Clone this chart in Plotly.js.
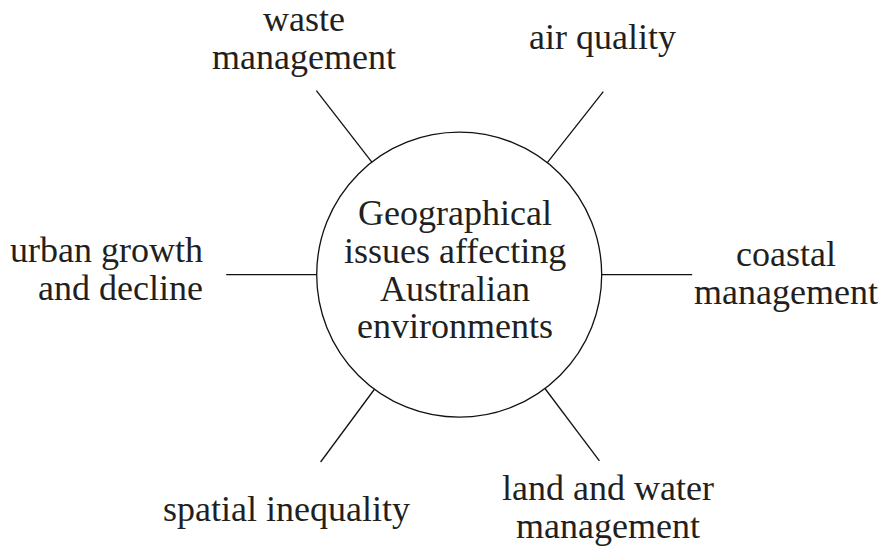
<!DOCTYPE html>
<html>
<head>
<meta charset="utf-8">
<script src="https://cdn.plot.ly/plotly-3.0.1.min.js"></script>
<style>html,body{margin:0;padding:0;background:#fff;}#chart{width:885px;height:549px;}</style>
</head>
<body>
<div id="chart"></div>
<script>
// ---- diagram data ----
var centreTitle = ["Geographical", "issues affecting", "Australian", "environments"];
var topics = ["waste management", "air quality", "coastal management", "land and water management", "spatial inequality", "urban growth and decline"];
var topicLines = [["waste", "management"], ["air quality"], ["coastal", "management"], ["land and water", "management"], ["spatial inequality"], ["urban growth", "and decline"]];
var spokeAngles = [127.8, 51.8, 0, -53, -126.5, 180]; // degrees, counter-clockwise from east

// ---- layout config (positions / styles) ----
var W = 885, H = 549;
var cx = 459.2, cy = 274.7, R = 142.5, spokeLen = 233;
var fontFam = "Liberation Serif";
var fs = 36;
var txtColor = "#231f20";
var lineGap = 37.8;
// label anchor: x, first baseline, xanchor
var labelPos = [
  {x: 304, y: 32, xa: "center"},
  {x: 602, y: 50, xa: "center"},
  {x: 786, y: 267, xa: "center"},
  {x: 608, y: 501, xa: "center"},
  {x: 286, y: 522, xa: "center"},
  {x: 205, y: 263, xa: "right"}
];
var centreBase = 226, centreX = 455;

var traces = [];
spokeAngles.forEach(function (a, i) {
  var t = a * Math.PI / 180;
  var dx = Math.cos(t), dy = -Math.sin(t);
  traces.push({
    type: "scatter", mode: "lines",
    x: [cx + R * dx, cx + spokeLen * dx],
    y: [cy + R * dy, cy + spokeLen * dy],
    line: {color: "#111", width: 1.3},
    hoverinfo: "skip", showlegend: false, name: topics[i]
  });
});

var ann = [];
function addLine(text, x, base, xa) {
  ann.push({
    text: text, x: x, y: base - 13, xref: "x", yref: "y",
    xanchor: xa, yanchor: "middle", showarrow: false,
    font: {family: fontFam, size: fs, color: txtColor}
  });
}
topicLines.forEach(function (lines, i) {
  var p = labelPos[i];
  lines.forEach(function (l, j) { addLine(l, p.x, p.y + j * lineGap, p.xa); });
});
centreTitle.forEach(function (l, j) { addLine(l, centreX, centreBase + j * lineGap, "center"); });

var layout = {
  width: W, height: H,
  margin: {l: 0, r: 0, t: 0, b: 0},
  paper_bgcolor: "#fff", plot_bgcolor: "#fff",
  font: {family: fontFam},
  xaxis: {range: [0, W], visible: false, fixedrange: true},
  yaxis: {range: [H, 0], visible: false, fixedrange: true},
  shapes: [{
    type: "circle", xref: "x", yref: "y",
    x0: cx - R, x1: cx + R, y0: cy - R, y1: cy + R,
    line: {color: "#111", width: 1.3}, fillcolor: "rgba(0,0,0,0)"
  }],
  annotations: ann,
  showlegend: false
};
Plotly.newPlot("chart", traces, layout, {displayModeBar: false, staticPlot: true});
</script>
</body>
</html>
